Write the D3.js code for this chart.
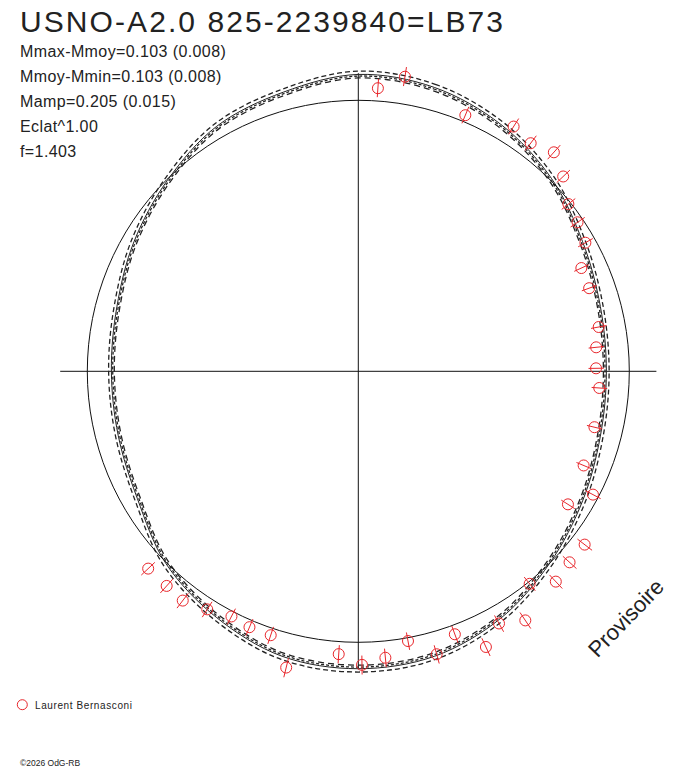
<!DOCTYPE html>
<html><head><meta charset="utf-8">
<script src="https://cdn.jsdelivr.net/npm/d3@7"></script>
<style>html,body{margin:0;padding:0;background:#fff;}svg{display:block;font-family:"Liberation Sans",Arial,sans-serif;}</style>
</head><body>
<script>
// ---- data ----
const title = "USNO-A2.0 825-2239840=LB73";
const infoLines = ["Mmax-Mmoy=0.103 (0.008)", "Mmoy-Mmin=0.103 (0.008)", "Mamp=0.205 (0.015)", "Eclat^1.00", "f=1.403"];
const observer = "Laurent Bernasconi";
const footer = "\u00A92026 OdG-RB";
const stamp = "Provisoire";

// observed points: phase and magnitude relative to mean
const obsPhase = [0.011,0.025,0.063,0.090,0.103,0.116,0.129,0.143,0.155,0.168,0.181,0.195,0.221,0.234,0.248,0.261,0.287,0.313,0.327,0.340,0.354,0.367,0.380,0.392,0.406,0.419,0.431,0.444,0.457,0.471,0.485,0.498,0.511,0.538,0.551,0.564,0.576,0.590,0.604,0.616,0.630];
const obsMag   = [-0.050,-0.104,-0.026,-0.073,-0.058,-0.087,-0.046,0.010,0.024,0.041,0.106,0.108,0.112,0.136,0.142,0.125,0.120,0.113,0.024,0.095,-0.055,-0.054,-0.068,-0.008,-0.110,-0.069,-0.124,-0.036,-0.087,-0.013,-0.065,-0.087,-0.049,-0.128,-0.028,-0.028,-0.020,-0.043,-0.069,-0.065,-0.067];
const obsErr   = [0.035,0.035,0.035,0.035,0.035,0.035,0.035,0.035,0.035,0.035,0.035,0.035,0.035,0.035,0.035,0.035,0.035,0.035,0.035,0.035,0.035,0.035,0.035,0.035,0.035,0.035,0.035,0.035,0.035,0.035,0.035,0.035,0.035,0.035,0.035,0.035,0.035,0.035,0.035,0.035,0.035];

// fitted light curve sampled every 1/24 phase
const fitPhase = [0,1/24,2/24,3/24,4/24,5/24,6/24,7/24,8/24,9/24,10/24,11/24,12/24,13/24,14/24,15/24,16/24,17/24,18/24,19/24,20/24,21/24,22/24,23/24];
const fitMag   = [-0.099,-0.088,-0.055,-0.008,0.049,0.085,0.096,0.085,0.049,0.000,-0.055,-0.092,-0.101,-0.092,-0.051,-0.004,0.066,0.094,0.101,0.088,0.049,0.004,-0.047,-0.070];
// fit uncertainty envelopes (mag offsets) drawn dashed
const envOffsets = [-0.012, 0.006, 0.013];

// ---- layout ----
const W = 688, H = 768, cx = 358.3, cy = 371.3, R0 = 271;
const red = "#e8262b";

const svg = d3.select("body").append("svg").attr("width", W).attr("height", H);

const rScale = d3.scaleLinear().domain([0, 1]).range([0, R0]);   // relative flux -> radius
const aScale = d3.scaleLinear().domain([0, 1]).range([0, 2 * Math.PI]); // phase -> angle
const flux = m => Math.pow(10, -0.4 * m);
const rad = m => rScale(flux(m));

const g = svg.append("g").attr("transform", `translate(${cx},${cy})`);

// axes
const ext = rScale(1.1);
g.append("line").attr("x1", -ext).attr("x2", ext).attr("y1", 0).attr("y2", 0).attr("stroke", "#111").attr("stroke-width", 1);
g.append("line").attr("y1", -ext).attr("y2", ext).attr("x1", 0).attr("x2", 0).attr("stroke", "#111").attr("stroke-width", 1);

// reference circle (mean magnitude)
g.append("circle").attr("r", rScale(1)).attr("fill", "none").attr("stroke", "#111").attr("stroke-width", 1);

// fitted curve + envelopes
const fitData = fitPhase.map((p, i) => ({ p, m: fitMag[i] }));
const line = off => d3.lineRadial().angle(d => aScale(d.p)).radius(d => rad(d.m + off)).curve(d3.curveCardinalClosed.tension(0));
const dashes = ["5,3", "3,2", "6,4"];
envOffsets.forEach((off, i) => {
  g.append("path").datum(fitData).attr("d", line(off)).attr("fill", "none")
    .attr("stroke", "#222").attr("stroke-width", 1.3).attr("stroke-dasharray", dashes[i]);
});
g.append("path").datum(fitData).attr("d", line(0)).attr("fill", "none").attr("stroke", "#222").attr("stroke-width", 1);

// observations
const obs = obsPhase.map((p, i) => ({ p, m: obsMag[i], e: obsErr[i] }));
const pts = g.append("g").selectAll("g").data(obs).join("g");
pts.append("line")
  .attr("x1", d => d3.pointRadial(aScale(d.p), rad(d.m - d.e))[0])
  .attr("y1", d => d3.pointRadial(aScale(d.p), rad(d.m - d.e))[1])
  .attr("x2", d => d3.pointRadial(aScale(d.p), rad(d.m + d.e))[0])
  .attr("y2", d => d3.pointRadial(aScale(d.p), rad(d.m + d.e))[1])
  .attr("stroke", red).attr("stroke-width", 1);
pts.append("circle")
  .attr("cx", d => d3.pointRadial(aScale(d.p), rad(d.m))[0])
  .attr("cy", d => d3.pointRadial(aScale(d.p), rad(d.m))[1])
  .attr("r", 5.5).attr("fill", "none").attr("stroke", red).attr("stroke-width", 1);

// texts
svg.append("text").attr("x", 20).attr("y", 32).attr("font-size", 30).attr("fill", "#222")
  .attr("textLength", 483).attr("lengthAdjust", "spacing").text(title);
svg.selectAll("text.info").data(infoLines).join("text").attr("class", "info")
  .attr("x", 20).attr("y", (d, i) => 57 + i * 25).attr("font-size", 16).attr("letter-spacing", 0.4)
  .attr("fill", "#222").text(d => d);

svg.append("text").attr("transform", "translate(626,618) rotate(-46)").attr("text-anchor", "middle")
  .attr("dominant-baseline", "central").attr("font-size", 22).attr("fill", "#222").text(stamp);

svg.append("circle").attr("cx", 22.3).attr("cy", 704.7).attr("r", 5).attr("fill", "none").attr("stroke", red).attr("stroke-width", 1);
svg.append("text").attr("x", 35).attr("y", 708.5).attr("font-size", 10).attr("letter-spacing", 0.6).attr("fill", "#222").text(observer);
svg.append("text").attr("x", 20).attr("y", 766).attr("font-size", 8.5).attr("fill", "#222").text(footer);
</script>
</body></html>
